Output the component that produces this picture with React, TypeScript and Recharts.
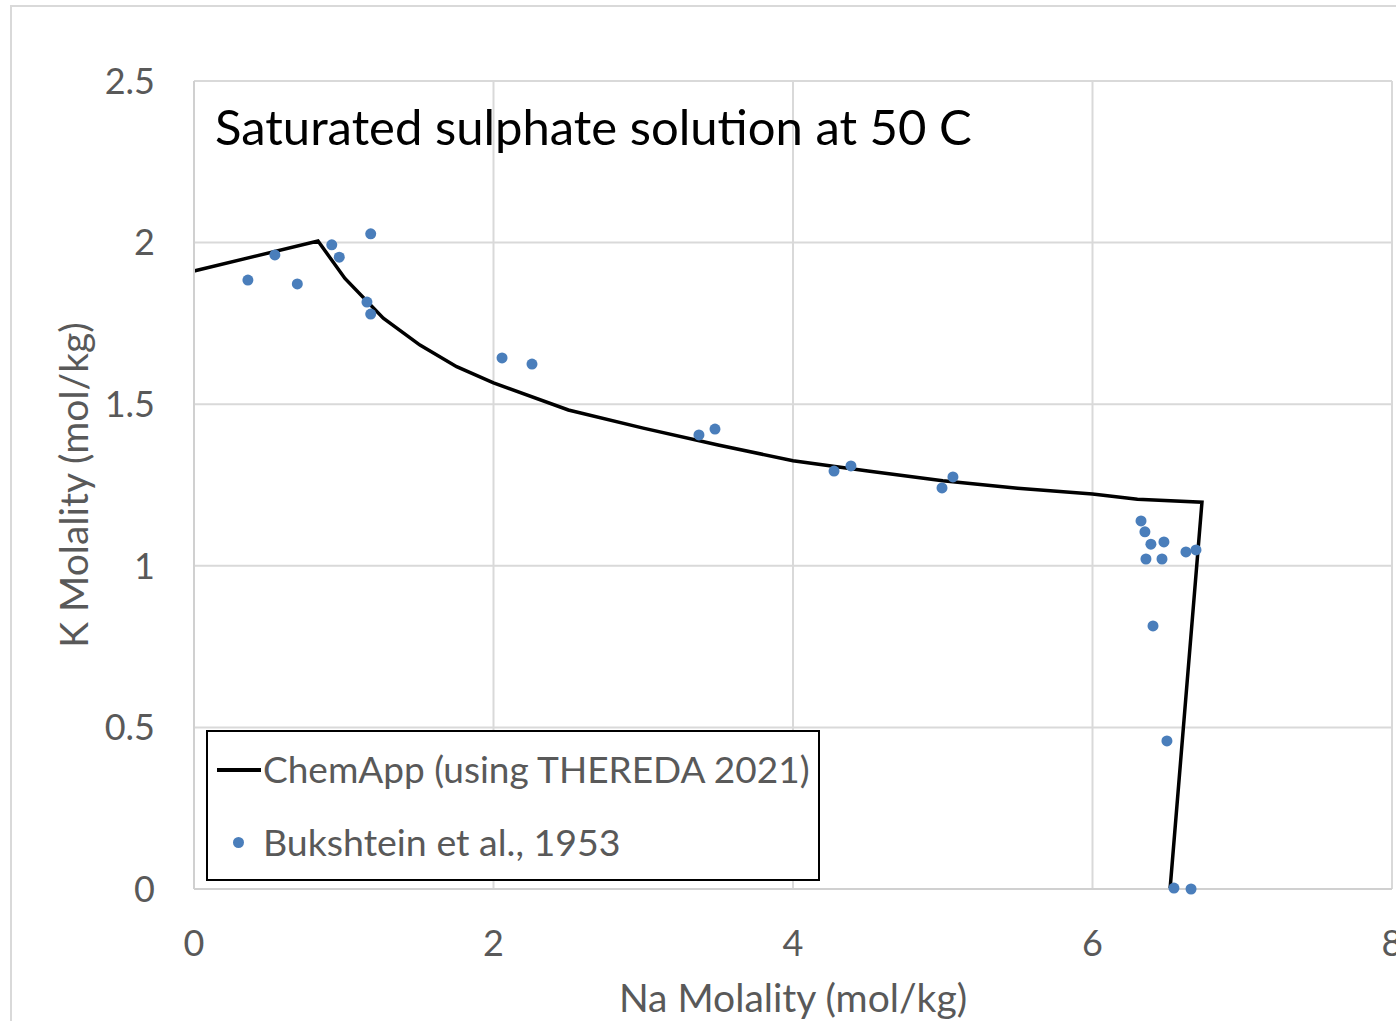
import { ComposedChart, Line, Scatter, XAxis, YAxis, CartesianGrid } from 'recharts'

// ChemApp model curve (Na, K molality)
const modelNa = [0, 0.828, 1.008, 1.264, 1.509, 1.754, 2.0, 2.5, 3.0, 3.5, 4.0, 4.5, 5.0, 5.5, 6.0, 6.3, 6.731, 6.518]
const modelK = [1.912, 2.005, 1.889, 1.766, 1.683, 1.616, 1.566, 1.482, 1.426, 1.374, 1.325, 1.293, 1.263, 1.24, 1.222, 1.206, 1.197, 0]

// Bukshtein et al., 1953 measurements
const expNa = [0.36, 0.54, 0.69, 0.92, 0.97, 1.18, 1.155, 1.18, 2.057, 2.257, 3.372, 3.479, 4.274, 4.387, 4.995, 5.068,
  6.324, 6.35, 6.39, 6.477, 6.357, 6.464, 6.624, 6.691, 6.404, 6.497, 6.544, 6.658]
const expK = [1.884, 1.962, 1.872, 1.993, 1.955, 2.027, 1.816, 1.779, 1.643, 1.624, 1.405, 1.423, 1.293, 1.309, 1.241, 1.275,
  1.139, 1.105, 1.067, 1.074, 1.021, 1.021, 1.043, 1.049, 0.814, 0.458, 0.003, 0]

const xTicks = [0, 2, 4, 6, 8]
const yTicks = [0, 0.5, 1, 1.5, 2, 2.5]

const modelData = modelNa.map((x, i) => ({ x, y: modelK[i] }))
const expData = expNa.map((x, i) => ({ x, y: expK[i] }))

const FONT = 'Lato, "Noto Sans", sans-serif'
const GREY = '#595959'
const DOT = '#4A7EBB'

const Dot = (props: any) => <circle cx={props.cx} cy={props.cy} r={5.5} fill={DOT} />

export default function App() {
  return (
    <div style={{ position: 'fixed', left: 0, top: 0, width: 1396, height: 1021, overflow: 'hidden', background: '#fff', fontFamily: FONT }}>
      <div style={{ position: 'absolute', left: 10, top: 5, width: 1600, height: 1200, border: '2px solid #D9D9D9' }} />
      <div style={{ position: 'absolute', left: 0, top: 0 }}>
        <ComposedChart width={1500} height={1100} margin={{ top: 81, right: 108, bottom: 91, left: 74 }}>
          <CartesianGrid stroke="#D9D9D9" strokeWidth={2} />
          <XAxis
            type="number"
            dataKey="x"
            domain={[0, 8]}
            ticks={xTicks}
            height={120}
            tickSize={0}
            tickMargin={41}
            axisLine={{ stroke: '#D0D0D0', strokeWidth: 2 }}
            tick={{ fill: GREY, fontSize: 36, fontFamily: FONT }}
            label={{ value: 'Na Molality (mol/kg)', position: 'insideBottom', offset: -3, fill: GREY, fontSize: 39, fontFamily: FONT }}
          />
          <YAxis
            type="number"
            dataKey="y"
            domain={[0, 2.5]}
            ticks={yTicks}
            width={120}
            tickSize={0}
            tickMargin={39}
            axisLine={{ stroke: '#D0D0D0', strokeWidth: 2 }}
            tick={{ fill: GREY, fontSize: 36, fontFamily: FONT }}
            label={{ value: 'K Molality (mol/kg)', angle: -90, position: 'insideLeft', offset: 0, fill: GREY, fontSize: 39, fontFamily: FONT, style: { textAnchor: 'middle' } }}
          />
          <Line data={modelData} dataKey="y" type="linear" stroke="#000" strokeWidth={3.5} dot={false} isAnimationActive={false} />
          <Scatter data={expData} dataKey="y" shape={Dot} isAnimationActive={false} />
        </ComposedChart>
      </div>
      <div style={{ position: 'absolute', left: 215, top: 96, fontSize: 49, color: '#000', whiteSpace: 'nowrap', lineHeight: '60px' }}>
        Saturated sulphate solution at 50 C
      </div>
      <div style={{ position: 'absolute', left: 206, top: 730, width: 610, height: 147, border: '2px solid #000', background: '#fff' }}>
        <div style={{ position: 'absolute', left: 9, top: 36, width: 44, height: 4, background: '#000' }} />
        <div style={{ position: 'absolute', left: 55, top: 15, fontSize: 37, color: GREY, whiteSpace: 'nowrap', lineHeight: '44px' }}>
          ChemApp (using THEREDA 2021)
        </div>
        <div style={{ position: 'absolute', left: 25, top: 105, width: 11, height: 11, borderRadius: '50%', background: DOT }} />
        <div style={{ position: 'absolute', left: 55, top: 88, fontSize: 37.5, color: GREY, whiteSpace: 'nowrap', lineHeight: '44px' }}>
          Bukshtein et al., 1953
        </div>
      </div>
    </div>
  )
}
